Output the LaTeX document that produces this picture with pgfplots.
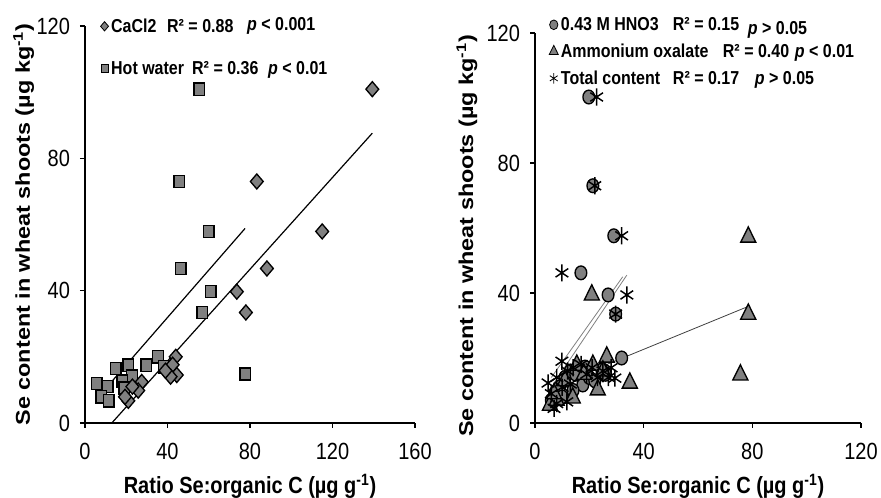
\documentclass[border=0pt]{standalone}
\usepackage{fontspec}
\setmainfont{Liberation Sans}
\usepackage{graphicx}
\usepackage{pgfplots}
\pgfplotsset{compat=1.18}
\definecolor{mk}{RGB}{128,128,128}
\newcommand\vs[1]{\scalebox{1}[1.17]{#1}}
\newcommand\lbl{\fontsize{15}{18}\selectfont\bfseries}

\pgfplotsset{
  se/.style={
    scale only axis, anchor=south west,
    axis x line*=bottom, axis y line*=left,
    axis line style={-, line width=1.1pt},
    tick align=outside, major tick length=3.75pt,
    tick style={black, line width=1pt},
    ymin=0, ymax=120, ytick={0,40,80,120},
    /pgf/number format/assume math mode=true,
    tick label style={font=\fontsize{15}{18}\selectfont},
    xticklabel style={yshift=-8pt},
    yticklabel style={xshift=-4pt},
    xticklabel={\vs{\pgfmathprintnumber{\tick}}},
    yticklabel={\vs{\pgfmathprintnumber{\tick}}},
    xlabel={\vs{Ratio Se:organic C (µg g\textsuperscript{-1})}},
    ylabel={\scalebox{1.17}[1]{Se content in wheat shoots (µg kg\textsuperscript{-1})}},
    every axis x label/.style={at={([yshift=-47.25pt]axis description cs:0.5,0)}, anchor=center, font=\lbl},
    legend style={draw=none, fill=none, anchor=north west,
      font=\fontsize{12}{14}\selectfont\bfseries, inner sep=0pt,
      column sep=1pt, nodes={inner sep=1pt}},
    legend cell align=left,
    legend image code/.code={\draw[##1] plot coordinates {(0pt,0pt)};},
    clip=false,
  },
  dia/.style={mark=square*, mark options={yscale=1.17, rotate=45, fill=mk, draw=black, line width=#1}},
  sqr/.style={mark=square*, mark options={yscale=1.17, fill=mk, draw=black, line width=#1}},
  cir/.style={mark=*, mark options={yscale=1.17, fill=mk, draw=black, line width=#1}},
  tri/.style={mark=triangle*, mark options={yscale=1.17, fill=mk, draw=black, line width=#1}},
  ast/.style={mark=asterisk, mark options={yscale=1.17, draw=black, line width=#1}},
  dia/.default=1pt, sqr/.default=1pt, cir/.default=1pt, tri/.default=1pt, ast/.default=1.1pt,
}

\begin{document}
\begin{tikzpicture}
\useasboundingbox (0,0) rectangle (660.75pt,373.5pt);

% left panel
\begin{axis}[se, at={(63.75pt,56.25pt)}, width=247.5pt, height=297.75pt,
  xmin=0, xmax=160, xtick={0,40,80,120,160},
  every axis y label/.style={at={([xshift=-46pt]axis description cs:0,0.5)}, rotate=90, anchor=center, font=\lbl},
  legend style={at={([xshift=11.5pt,yshift=7.5pt]axis description cs:0,1)}, row sep=17.5pt}]
\addlegendimage{dia=0.6pt, mark size=2.1pt}
\addlegendentry{\vs{\makebox[42pt][l]{CaCl2}\makebox[60pt][l]{R² = 0.88}\raisebox{1.5pt}{\textit{p} < 0.001}}}
\addlegendimage{sqr=0.6pt, mark size=2.7pt}
\addlegendentry{\vs{\makebox[60.75pt][l]{Hot water}\makebox[57pt][l]{R² = 0.36}\textit{p} < 0.01}}

\addplot[forget plot, only marks, sqr, mark size=3.9pt] coordinates {
(55.3,100.9) (45.6,73) (60,57.9) (46.5,46.7) (61,39.7) (56.9,33.4) (77.6,14.8)
(35.4,20) (29.6,17.5) (21,17.5) (15,16.4) (22.8,14.2) (18,12.7) (19,10.6)
(5.8,12) (11,11) (7.8,7.9) (11.6,6.7) (38,17)
};
\addplot[forget plot, only marks, dia, mark size=3.4pt] coordinates {
(139.3,100.9) (83.3,73) (115,57.9) (88.2,46.7) (73.6,39.7) (78,33.4) (44,20)
(42.5,17.6) (44.5,14.5) (41.5,14) (39,15.8) (27.5,12.4) (25.8,9.8) (23,11)
(21,6.7) (19.4,7.9)
};
\addplot[forget plot, black, line width=0.9pt] coordinates {(13,0) (139.3,87.6)};
\addplot[forget plot, black, line width=0.9pt] coordinates {(5.8,7.4) (77.6,58.8)};
\end{axis}

% right panel
\begin{axis}[se, at={(401.25pt,56.25pt)}, width=244.5pt, height=292.5pt,
  xmin=0, xmax=120, xtick={0,40,80,120},
  every axis y label/.style={at={([xshift=-51pt,yshift=-6pt]axis description cs:0,0.5)}, rotate=90, anchor=center, font=\lbl},
  legend style={at={([xshift=10.5pt,yshift=13pt]axis description cs:0,1)}, row sep=6.5pt}]
\addlegendimage{cir=0.6pt, mark size=3.1pt}
\addlegendentry{\vs{\makebox[84pt][l]{0.43 M HNO3}\makebox[56.25pt][l]{R² = 0.15}\raisebox{-2.5pt}{\textit{p} > 0.05}}}
\addlegendimage{tri=0.6pt, mark size=3.9pt}
\addlegendentry{\vs{\makebox[121.5pt][l]{Ammonium oxalate}\makebox[54pt][l]{R² = 0.40}\textit{p} < 0.01}}
\addlegendimage{ast=0.6pt, mark size=3.4pt}
\addlegendentry{\vs{\makebox[84pt][l]{Total content}\makebox[61.5pt][l]{R² = 0.17}\textit{p} > 0.05}}

\addplot[forget plot, only marks, cir, mark size=4.4pt] coordinates {
(19.8,100.3) (21.3,73) (29,57.6) (16.9,46.2) (26.9,39.4) (29.7,33.5) (31.9,20)
(17.6,11.7) (24.6,16.3) (18.4,17.2) (7.3,9.2) (6,7) (9,11) (11,14) (13,16)
(15,15) (20,14) (22,13) (26,15) (10,8) (14,10)
};
\addplot[forget plot, only marks, tri, mark size=6.5pt] coordinates {
(78.5,57.2) (78.5,33.5) (75.6,14.8) (20.9,39.4) (34.9,12.3) (26.4,20.3)
(23.1,10.2) (13.9,7.7) (5.5,5.5) (21.3,17.8) (15.4,17.8) (8,7) (11,13)
(18,15) (25,16) (7,9)
};
\addplot[forget plot, only marks, ast, mark size=5.5pt] coordinates {
(22.7,100.3) (22,73) (31.9,57.6) (9.9,46.2) (33.8,39.4) (29.7,33.5) (4.8,12.3)
(11.7,6.5) (29.4,13.8) (9.9,19) (6,9) (8,6) (8,14) (10,11) (12,16) (14,17)
(17,18) (19,15) (21,17) (23,14) (25,16) (27,14) (28,17) (13,12) (7,4.5)
};
\addplot[forget plot, black!75, line width=0.6pt] coordinates {(6,11) (78,35.7)};
\addplot[forget plot, mk, line width=0.6pt] coordinates {(7,12.3) (33.8,45.5)};
\addplot[forget plot, mk, line width=0.6pt] coordinates {(6,14) (32.3,45)};
\end{axis}
\end{tikzpicture}
\end{document}
